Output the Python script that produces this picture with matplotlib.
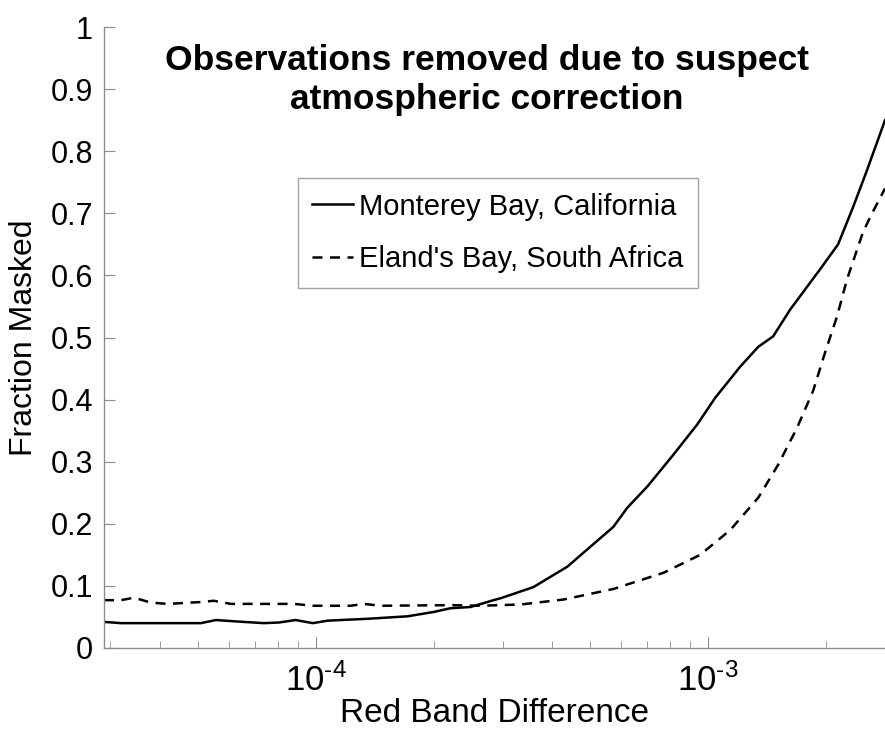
import matplotlib
matplotlib.use("Agg")
import matplotlib.pyplot as plt

plt.rcParams['font.family'] = ['Liberation Sans', 'DejaVu Sans']
plt.rcParams['mathtext.fontset'] = 'custom'
plt.rcParams['mathtext.rm'] = 'Liberation Sans'
plt.rcParams['mathtext.default'] = 'regular'
plt.rcParams['axes.unicode_minus'] = False

#--------------- Dados --------------------------------------
## Monterey Bay (linha cheia)
x_monterey = [2.888e-5, 3.19e-5, 4.03e-5, 5.10e-5, 5.57e-5, 6.18e-5, 7.37e-5, 8.05e-5,
              8.89e-5, 9.83e-5, 1.073e-4, 1.356e-4, 1.714e-4, 1.997e-4, 2.206e-4, 2.480e-4,
              2.838e-4, 2.956e-4, 3.586e-4, 4.377e-4, 5.008e-4, 5.732e-4, 6.222e-4, 6.996e-4,
              8.145e-4, 9.376e-4, 1.042e-3, 1.206e-3, 1.341e-3, 1.464e-3, 1.617e-3, 1.928e-3,
              2.142e-3, 2.339e-3, 2.540e-3, 2.821e-3]
y_monterey = [0.042, 0.040, 0.040, 0.040, 0.045, 0.043, 0.040, 0.041,
              0.045, 0.040, 0.044, 0.047, 0.051, 0.058, 0.064, 0.066,
              0.077, 0.080, 0.098, 0.131, 0.163, 0.195, 0.226, 0.260,
              0.311, 0.360, 0.403, 0.453, 0.485, 0.502, 0.545, 0.610,
              0.650, 0.710, 0.770, 0.850]

## Eland's Bay (tracejada)
x_elands = [2.888e-5, 3.19e-5, 3.444e-5, 3.804e-5, 4.201e-5, 5.10e-5, 5.50e-5, 6.074e-5,
            7.55e-5, 8.79e-5, 9.88e-5, 1.228e-4, 1.325e-4, 1.464e-4, 2.206e-4, 2.630e-4,
            3.323e-4, 4.276e-4, 5.732e-4, 7.684e-4, 9.541e-4, 1.138e-3, 1.341e-3, 1.507e-3,
            1.685e-3, 1.850e-3, 1.985e-3, 2.129e-3, 2.258e-3, 2.480e-3, 2.614e-3, 2.821e-3]
y_elands = [0.077, 0.077, 0.081, 0.073, 0.071, 0.074, 0.076, 0.071,
            0.071, 0.071, 0.068, 0.068, 0.071, 0.068, 0.069, 0.068,
            0.070, 0.078, 0.095, 0.121, 0.150, 0.190, 0.242, 0.295,
            0.355, 0.414, 0.476, 0.534, 0.594, 0.670, 0.700, 0.740]

y_ticks = [0, 0.1, 0.2, 0.3, 0.4, 0.5, 0.6, 0.7, 0.8, 0.9, 1]
y_ticklabels = ['0', '0.1', '0.2', '0.3', '0.4', '0.5', '0.6', '0.7', '0.8', '0.9', '1']
x_ticks = [1e-4, 1e-3]
x_ticklabels = ['10$^{\\text{-4}}$', '10$^{\\text{-3}}$']

#--------------- Figura --------------------------
fig = plt.figure(figsize=(8.85, 7.33), dpi=100)
ax = fig.add_axes([0.1175, 0.116, 0.8825, 0.847])

ax.plot(x_monterey, y_monterey, color='black', lw=1.8, label='Monterey Bay, California')
ax.plot(x_elands, y_elands, color='black', lw=1.8, linestyle=(0, (4, 3)),
        label="Eland's Bay, South Africa")

ax.set_xscale('log')
ax.set_xlim(2.888e-5, 2.821e-3)
ax.set_ylim(0, 1)
ax.set_yticks(y_ticks)
ax.set_yticklabels(y_ticklabels)
ax.set_xticks(x_ticks)
ax.set_xticklabels(x_ticklabels)

for s in ['top', 'right']:
    ax.spines[s].set_visible(False)
for s in ['left', 'bottom']:
    ax.spines[s].set_color('#8c8c8c')
    ax.spines[s].set_linewidth(1.0)

ax.tick_params(which='major', direction='in', length=8, color='#8c8c8c',
               labelsize=22, pad=8)
ax.tick_params(which='minor', direction='in', length=5, color='#8c8c8c')
ax.tick_params(axis='x', which='major', labelsize=25, pad=11)

ax.set_xlabel('Red Band Difference', fontsize=24, labelpad=0)
ax.set_ylabel('Fraction Masked', fontsize=23, labelpad=8)

ax.text(0.49, 0.973, 'Observations removed due to suspect\natmospheric correction',
        transform=ax.transAxes, ha='center', va='top', fontsize=25.5,
        fontweight='bold', linespacing=1.22)

leg = ax.legend(loc='upper left', bbox_to_anchor=(0.248, 0.757), fontsize=21,
                frameon=True, fancybox=False, edgecolor='#8c8c8c',
                handlelength=1.4, handletextpad=0.2, borderpad=0.5,
                labelspacing=0.85, borderaxespad=0)
leg.get_frame().set_linewidth(1.0)

fig.savefig('out.png', dpi=100)
